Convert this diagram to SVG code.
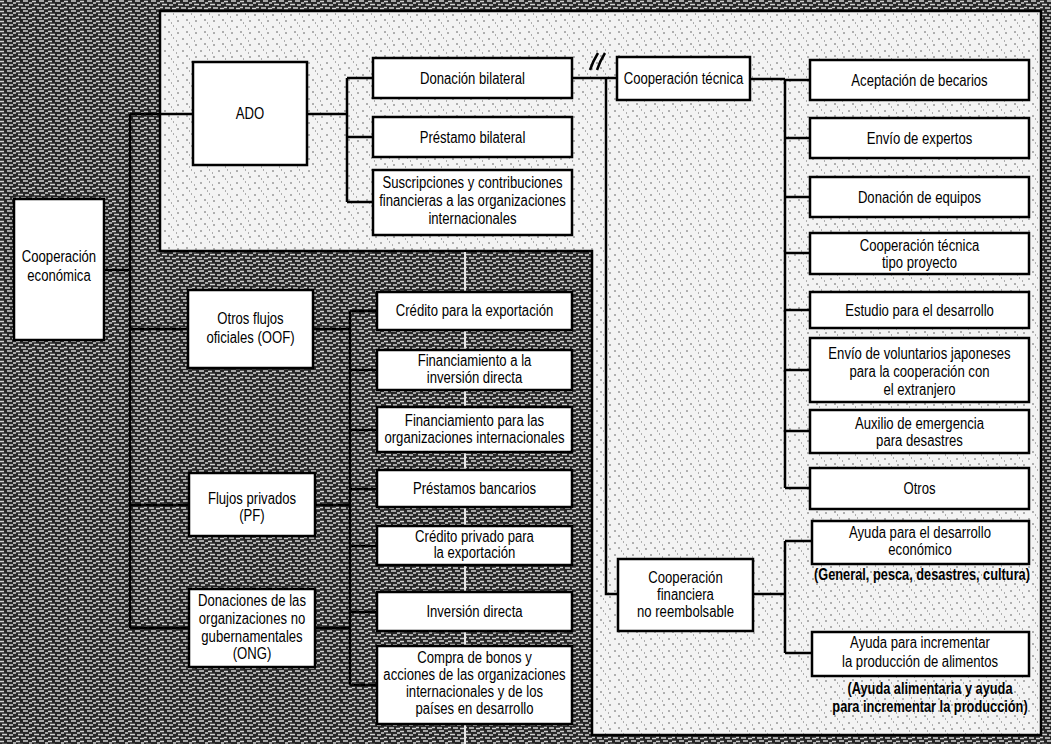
<svg xmlns="http://www.w3.org/2000/svg" width="1051" height="744" viewBox="0 0 1051 744">
<defs>
<pattern id="darkTex" width="16" height="10" patternUnits="userSpaceOnUse">
<rect width="16" height="10" fill="#262626"/>
<path d="M0 1.5h4M7 1h5M13 3h3M2 4.5h5M9 5h4M0 7.5h3M5 8h5M12 8.5h4" stroke="#d0d0d0" stroke-width="1.4"/>
</pattern>
<pattern id="lightTex" width="18" height="12" patternUnits="userSpaceOnUse">
<rect width="18" height="12" fill="#f3f3f3"/>
<path d="M2 3h2M11 2h1M6 8h2M15 9h2M9 11h1M14 5h1" stroke="#6a6a6a" stroke-width="1"/>
</pattern>
<style>
.box{fill:#fff;stroke:#000;stroke-width:2.5}
.t{font-family:"Liberation Sans",Arial,sans-serif;font-size:16px;fill:#000;text-anchor:middle}
.cap{font-family:"Liberation Sans",Arial,sans-serif;font-size:16px;font-weight:bold;fill:#000;text-anchor:middle}
.ln{stroke:#000;stroke-width:2.5;fill:none}
</style>
</defs>

<g id="background">
<rect x="0" y="0" width="1051" height="744" fill="url(#darkTex)"/>
<path d="M160 11H1041V735H592V251H160Z" fill="url(#lightTex)" stroke="#000" stroke-width="2.5"/>
<line x1="465" y1="252" x2="465" y2="744" stroke="#e8e8e8" stroke-width="2"/>
</g>

<g id="connectors">
<path class="ln" d="M104 270H130M130 114V628M130 114H193M130 329H188M130 505H189M130 628H189"/>
<path class="ln" d="M307 114H347M347 78V202M347 78H373M347 137H373M347 202H373"/>
<path class="ln" d="M572 78H617M606 78V594H618"/>
<path class="ln" d="M590 70q3-9 8-17M597 70q3-9 8-17" stroke-width="1.6"/>
<path class="ln" d="M750 79H785M785 79V488M785 80H810M785 138H810M785 197H810M785 253H810M785 310H810M785 370H810M785 431H810M785 488H810"/>
<path class="ln" d="M753 594H785M785 541V653M785 541H812M785 653H812"/>
<path class="ln" d="M313 329H350M315 505H350M315 628H350M350 311V685M350 311H377M350 370H377M350 430H377M350 489H377M350 546H377M350 612H377M350 685H377"/>
</g>

<g id="n-econ"><rect class="box" x="14" y="199" width="90" height="141"/>
<g transform="matrix(0.82 0 0 1 10.62 0)"><text class="t" x="59" y="262">Cooperación</text><text class="t" x="59" y="281">económica</text></g></g>

<g id="n-ado"><rect class="box" x="193" y="62" width="114" height="103"/>
<g transform="matrix(0.82 0 0 1 45 0)"><text class="t" x="250" y="119">ADO</text></g></g>

<g id="n-don-bil"><rect class="box" x="373" y="58" width="199" height="40"/>
<g transform="matrix(0.82 0 0 1 85.05 0)"><text class="t" x="472.5" y="84">Donación bilateral</text></g></g>

<g id="n-pres-bil"><rect class="box" x="373" y="117" width="199" height="40"/>
<g transform="matrix(0.82 0 0 1 85.05 0)"><text class="t" x="472.5" y="143">Préstamo bilateral</text></g></g>

<g id="n-susc"><rect class="box" x="373" y="170" width="199" height="65"/>
<g transform="matrix(0.82 0 0 1 85.05 0)"><text class="t" x="472.5" y="188">Suscripciones y contribuciones</text><text class="t" x="472.5" y="206">financieras a las organizaciones</text><text class="t" x="472.5" y="224">internacionales</text></g></g>

<g id="n-coop-tec"><rect class="box" x="617" y="57" width="133" height="43"/>
<g transform="matrix(0.82 0 0 1 123.03 0)"><text class="t" x="683.5" y="84">Cooperación técnica</text></g></g>

<g id="n-becarios"><rect class="box" x="810" y="60" width="219" height="40"/>
<g transform="matrix(0.82 0 0 1 165.51 0)"><text class="t" x="919.5" y="86">Aceptación de becarios</text></g></g>

<g id="n-expertos"><rect class="box" x="810" y="118" width="219" height="40"/>
<g transform="matrix(0.82 0 0 1 165.51 0)"><text class="t" x="919.5" y="144">Envío de expertos</text></g></g>

<g id="n-equipos"><rect class="box" x="810" y="177" width="219" height="40"/>
<g transform="matrix(0.82 0 0 1 165.51 0)"><text class="t" x="919.5" y="203">Donación de equipos</text></g></g>

<g id="n-proyecto"><rect class="box" x="810" y="233" width="219" height="41"/>
<g transform="matrix(0.82 0 0 1 165.51 0)"><text class="t" x="919.5" y="251">Cooperación técnica</text><text class="t" x="919.5" y="268">tipo proyecto</text></g></g>

<g id="n-estudio"><rect class="box" x="810" y="292" width="219" height="36"/>
<g transform="matrix(0.82 0 0 1 165.51 0)"><text class="t" x="919.5" y="316">Estudio para el desarrollo</text></g></g>

<g id="n-voluntarios"><rect class="box" x="810" y="338" width="219" height="64"/>
<g transform="matrix(0.82 0 0 1 165.51 0)"><text class="t" x="919.5" y="359">Envío de voluntarios japoneses</text><text class="t" x="919.5" y="377">para la cooperación con</text><text class="t" x="919.5" y="395">el extranjero</text></g></g>

<g id="n-auxilio"><rect class="box" x="810" y="410" width="219" height="43"/>
<g transform="matrix(0.82 0 0 1 165.51 0)"><text class="t" x="919.5" y="429">Auxilio de emergencia</text><text class="t" x="919.5" y="446">para desastres</text></g></g>

<g id="n-otros"><rect class="box" x="810" y="468" width="219" height="41"/>
<g transform="matrix(0.82 0 0 1 165.51 0)"><text class="t" x="919.5" y="494">Otros</text></g></g>

<g id="n-ayuda-des"><rect class="box" x="812" y="521" width="217" height="43"/>
<g transform="matrix(0.82 0 0 1 165.6 0)"><text class="t" x="920" y="538">Ayuda para el desarrollo</text><text class="t" x="920" y="555">económico</text></g>
<g transform="matrix(0.8 0 0 1 184.4 0)"><text class="cap" x="922" y="580">(General, pesca, desastres, cultura)</text></g></g>

<g id="n-ayuda-alim"><rect class="box" x="812" y="632" width="217" height="44"/>
<g transform="matrix(0.82 0 0 1 165.6 0)"><text class="t" x="920" y="648">Ayuda para incrementar</text><text class="t" x="920" y="667">la producción de alimentos</text></g>
<g transform="matrix(0.8 0 0 1 186 0)"><text class="cap" x="930" y="694">(Ayuda alimentaria y ayuda</text><text class="cap" x="930" y="712">para incrementar la producción)</text></g></g>

<g id="n-coop-fin"><rect class="box" x="618" y="559" width="135" height="72"/>
<g transform="matrix(0.82 0 0 1 123.39 0)"><text class="t" x="685.5" y="583">Cooperación</text><text class="t" x="685.5" y="600">financiera</text><text class="t" x="685.5" y="617">no reembolsable</text></g></g>

<g id="n-oof"><rect class="box" x="188" y="290" width="125" height="78"/>
<g transform="matrix(0.82 0 0 1 45.09 0)"><text class="t" x="250.5" y="324">Otros flujos</text><text class="t" x="250.5" y="343">oficiales (OOF)</text></g></g>

<g id="n-pf"><rect class="box" x="189" y="473" width="126" height="63"/>
<g transform="matrix(0.82 0 0 1 45.36 0)"><text class="t" x="252" y="504">Flujos privados</text><text class="t" x="252" y="521">(PF)</text></g></g>

<g id="n-ong"><rect class="box" x="189" y="589" width="126" height="78"/>
<g transform="matrix(0.82 0 0 1 45.36 0)"><text class="t" x="252" y="606">Donaciones de las</text><text class="t" x="252" y="624">organizaciones no</text><text class="t" x="252" y="642">gubernamentales</text><text class="t" x="252" y="659">(ONG)</text></g></g>

<g id="n-cred-exp"><rect class="box" x="377" y="292" width="195" height="38"/>
<g transform="matrix(0.82 0 0 1 85.41 0)"><text class="t" x="474.5" y="316">Crédito para la exportación</text></g></g>

<g id="n-fin-inv"><rect class="box" x="377" y="350" width="195" height="40"/>
<g transform="matrix(0.82 0 0 1 85.41 0)"><text class="t" x="474.5" y="366">Financiamiento a la</text><text class="t" x="474.5" y="383">inversión directa</text></g></g>

<g id="n-fin-org"><rect class="box" x="377" y="407" width="195" height="45"/>
<g transform="matrix(0.82 0 0 1 85.41 0)"><text class="t" x="474.5" y="426">Financiamiento para las</text><text class="t" x="474.5" y="443">organizaciones internacionales</text></g></g>

<g id="n-prest-banc"><rect class="box" x="377" y="470" width="195" height="37"/>
<g transform="matrix(0.82 0 0 1 85.41 0)"><text class="t" x="474.5" y="494">Préstamos bancarios</text></g></g>

<g id="n-cred-priv"><rect class="box" x="377" y="526" width="195" height="39"/>
<g transform="matrix(0.82 0 0 1 85.41 0)"><text class="t" x="474.5" y="542">Crédito privado para</text><text class="t" x="474.5" y="558">la exportación</text></g></g>

<g id="n-inv-dir"><rect class="box" x="377" y="592" width="195" height="39"/>
<g transform="matrix(0.82 0 0 1 85.41 0)"><text class="t" x="474.5" y="617">Inversión directa</text></g></g>

<g id="n-bonos"><rect class="box" x="377" y="646" width="195" height="78"/>
<g transform="matrix(0.82 0 0 1 85.41 0)"><text class="t" x="474.5" y="663">Compra de bonos y</text><text class="t" x="474.5" y="680">acciones de las organizaciones</text><text class="t" x="474.5" y="697">internacionales y de los</text><text class="t" x="474.5" y="714">países en desarrollo</text></g></g>
</svg>
